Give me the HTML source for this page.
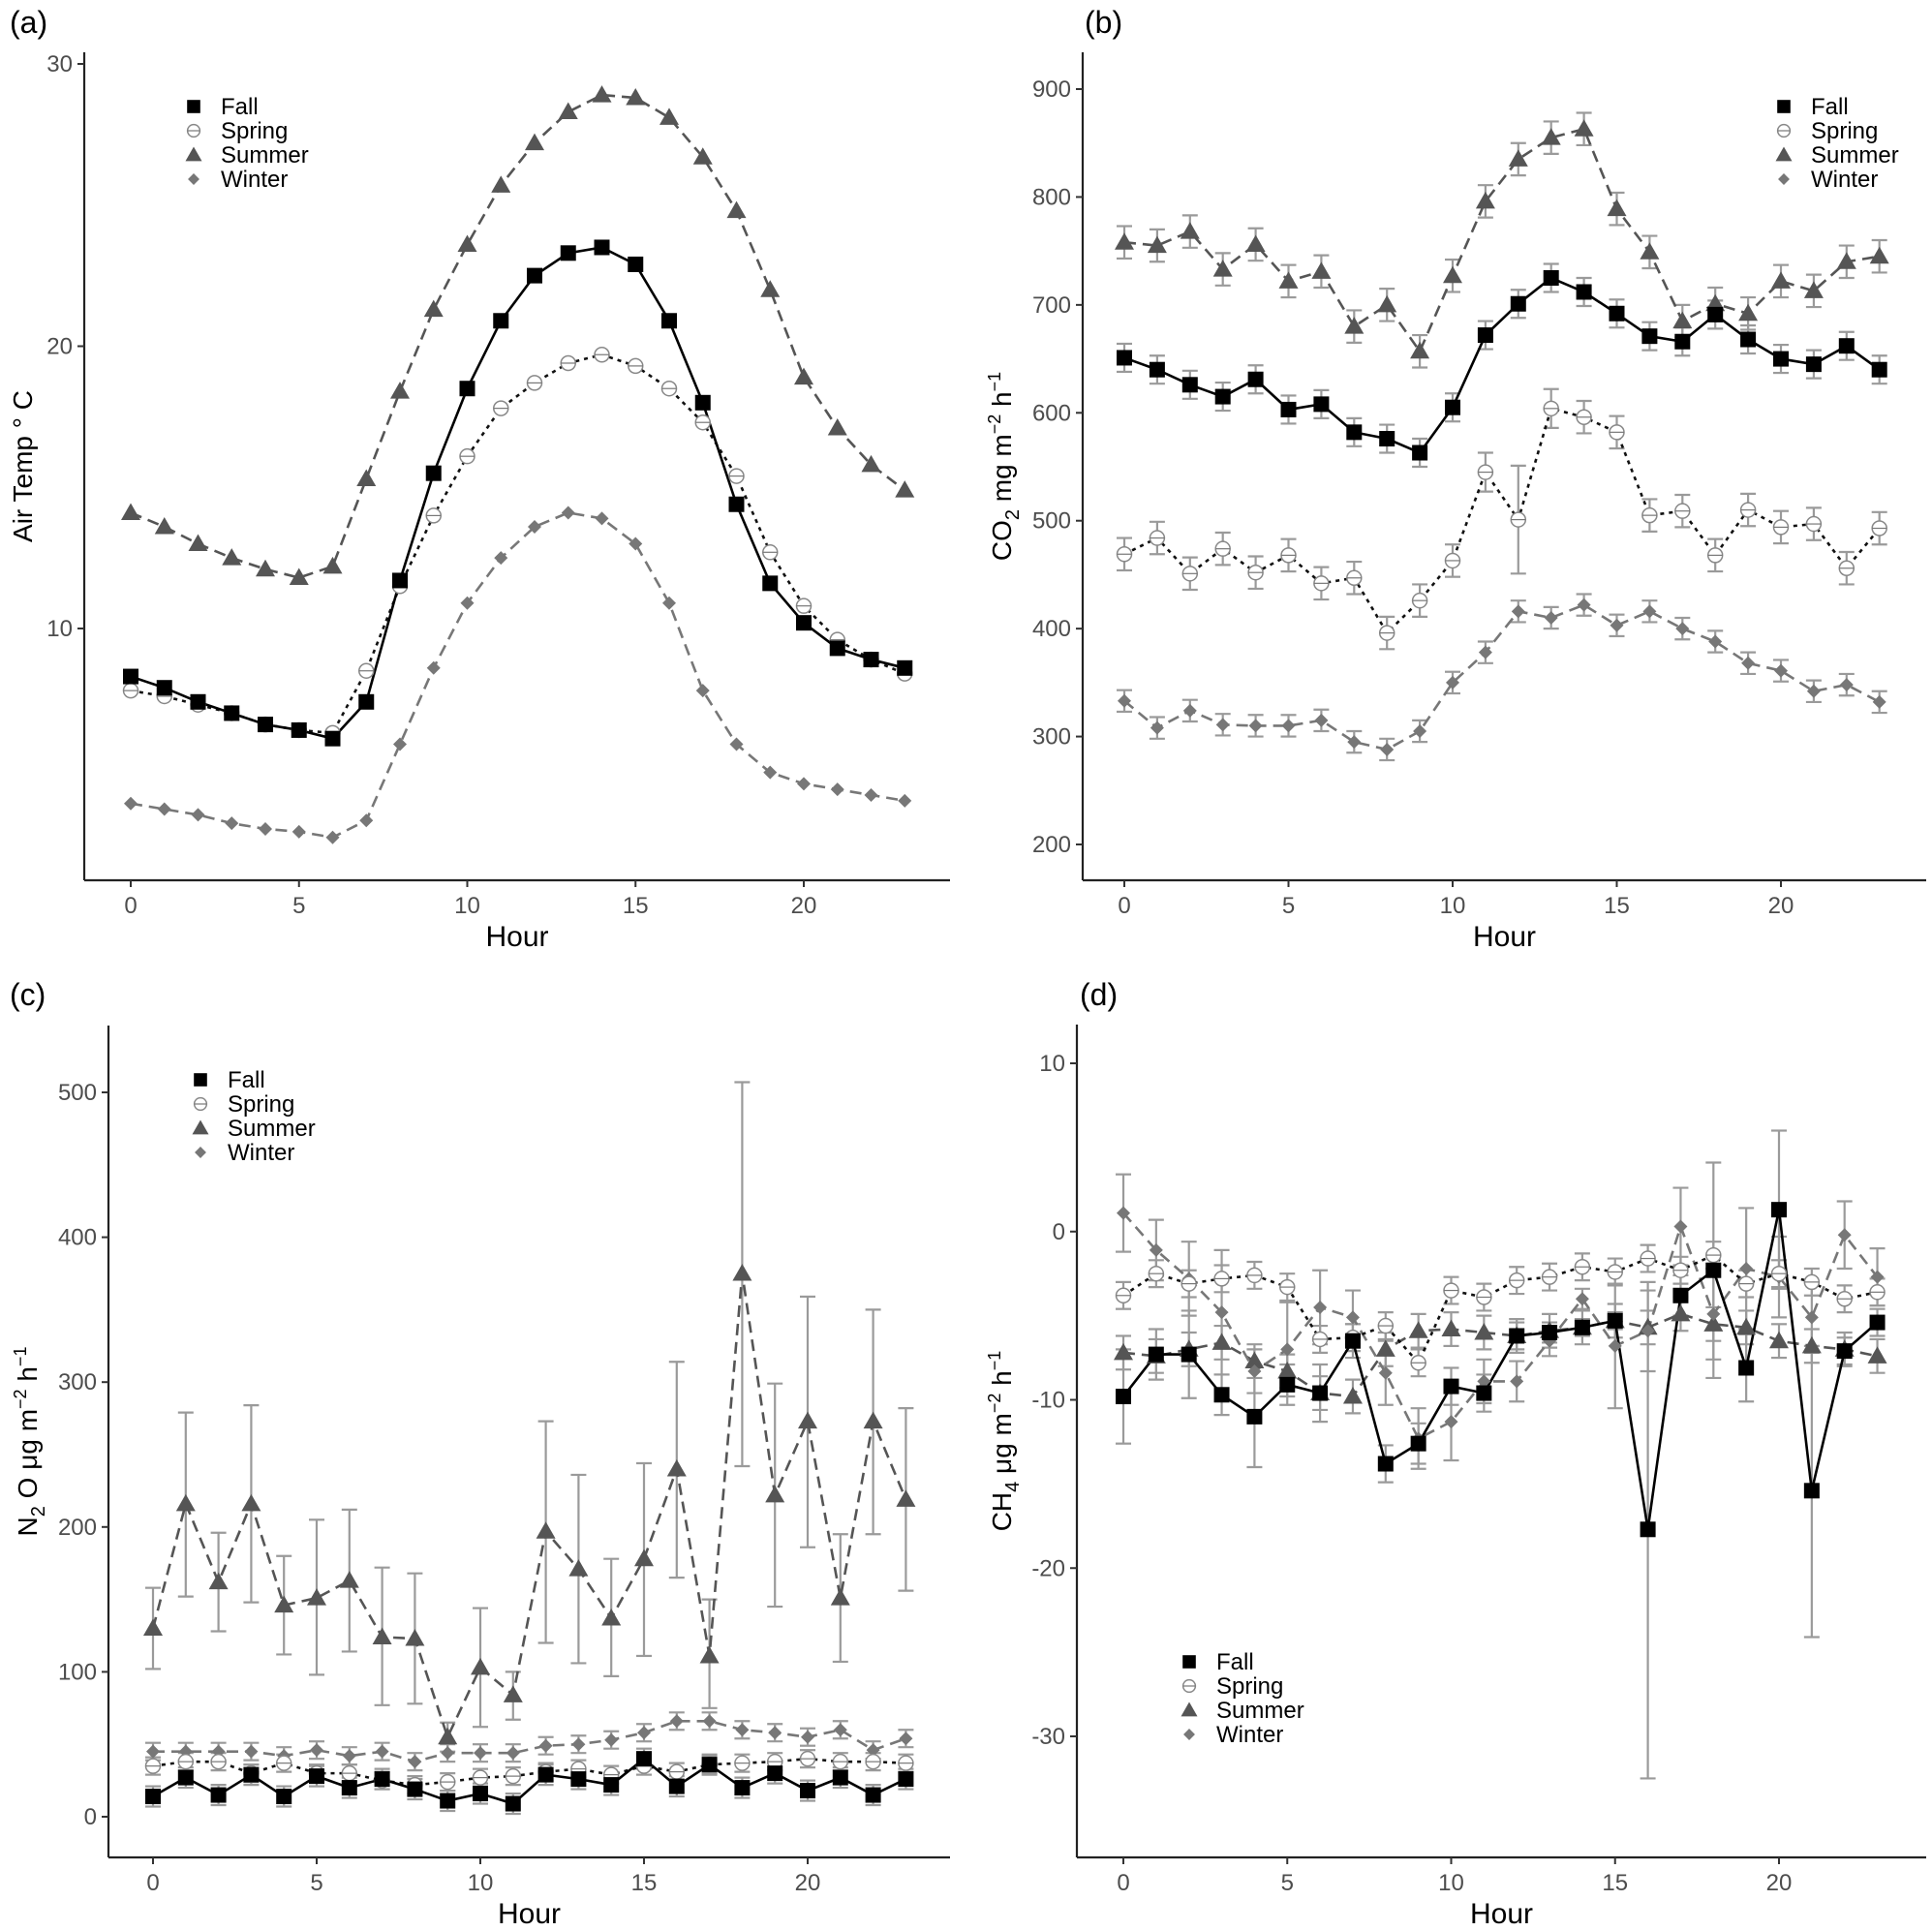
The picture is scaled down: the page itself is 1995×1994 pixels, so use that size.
<!DOCTYPE html>
<html><head><meta charset="utf-8"><style>
html,body{margin:0;padding:0;background:#fff}
svg{display:block;font-family:"Liberation Sans",sans-serif}
</style></head><body>
<svg id="s" width="1995" height="1994" xmlns="http://www.w3.org/2000/svg"></svg>
<script>
const S=document.getElementById('s');let h='';
function mk(p,series,legend){
 const X=t=>p.x0+t*p.hr, Y=v=>p.y1p+(v-p.y1)*(p.y2p-p.y1p)/(p.y2-p.y1);
 h+=`<line x1="${p.l}" y1="${p.t}" x2="${p.l}" y2="${p.b}" stroke="#222" stroke-width="2.2"/>`;
 h+=`<line x1="${p.l}" y1="${p.b}" x2="${p.r}" y2="${p.b}" stroke="#222" stroke-width="2.2"/>`;
 for(const v of p.yt){const y=Y(v);h+=`<line x1="${p.l-7}" y1="${y}" x2="${p.l}" y2="${y}" stroke="#333" stroke-width="2"/><text x="${p.l-12}" y="${y+8}" font-size="24" fill="#4d4d4d" text-anchor="end">${v}</text>`;}
 for(const t of [0,5,10,15,20]){const x=X(t);h+=`<line x1="${x}" y1="${p.b}" x2="${x}" y2="${p.b+7}" stroke="#333" stroke-width="2"/><text x="${x}" y="${p.b+34}" font-size="24" fill="#4d4d4d" text-anchor="middle">${t}</text>`;}
 h+=`<text x="${(p.l+p.r)/2}" y="${p.b+68}" font-size="30" fill="#000" text-anchor="middle">Hour</text>`;
 h+=`<text transform="translate(${p.yx},${(p.t+p.b)/2}) rotate(-90)" font-size="28" text-anchor="middle">${p.ytitle}</text>`;
 h+=`<text x="${p.lx}" y="${p.ly}" font-size="32">${p.lab}</text>`;
 for(const s of series){ if(!s.e)continue; s.v.forEach((v,i)=>{const e=s.e[i];if(e==null)return;let lo,hi;if(Array.isArray(e)){lo=e[0];hi=e[1]}else{lo=v-e;hi=v+e}
  const x=X(i);h+=`<g stroke="#9a9a9a" stroke-width="2.2"><line x1="${x}" y1="${Y(lo)}" x2="${x}" y2="${Y(hi)}"/><line x1="${x-8}" y1="${Y(lo)}" x2="${x+8}" y2="${Y(lo)}"/><line x1="${x-8}" y1="${Y(hi)}" x2="${x+8}" y2="${Y(hi)}"/></g>`;});}
 for(const s of series){const pts=s.v.map((v,i)=>X(i)+','+Y(v)).join(' ');
  h+=`<polyline points="${pts}" fill="none" stroke="${s.c}" stroke-width="2.6" ${s.d?`stroke-dasharray="${s.d}"`:''}/>`;}
 for(const s of series){s.v.forEach((v,i)=>{h+=marker(s.m,X(i),Y(v));});}
 legend.forEach((n,i)=>{const y=p.gy+i*25;h+=marker(['sq','ci','tr','di'][i],p.gx,y,0.85)+`<text x="${p.gx+28}" y="${y+8}" font-size="24">${n}</text>`;});
}
function marker(m,x,y,k=1){
 if(m=='sq'){const a=8*k;return `<rect x="${x-a}" y="${y-a}" width="${2*a}" height="${2*a}" fill="#000"/>`;}
 if(m=='ci'){const r=7.5*k;return `<circle cx="${x}" cy="${y}" r="${r}" fill="#fff" stroke="#888" stroke-width="1.5"/><line x1="${x-r}" y1="${y}" x2="${x+r}" y2="${y}" stroke="#777" stroke-width="1.2"/>`;}
 if(m=='tr'){const a=10*k;return `<polygon points="${x},${y-a} ${x+a},${y+a*0.75} ${x-a},${y+a*0.75}" fill="#555"/>`;}
 if(m=='di'){const a=7*k;return `<polygon points="${x},${y-a} ${x+a},${y} ${x},${y+a} ${x-a},${y}" fill="#777"/>`;}
}
const F={c:'#000',m:'sq'},SP={c:'#111',m:'ci',d:'4,5'},SU={c:'#555',m:'tr',d:'12,7'},W={c:'#777',m:'di',d:'12,7'};
const L=['Fall','Spring','Summer','Winter'];
mk({l:87,t:54,b:909,r:981,x0:135,hr:34.75,y1:30,y1p:66,y2:10,y2p:649,yt:[10,20,30],yx:33,ytitle:'Air Temp ° C',lab:'(a)',lx:10,ly:34,gx:200,gy:110},[
{...SU,v:[14.1,13.6,13.0,12.5,12.1,11.8,12.2,15.3,18.4,21.3,23.6,25.7,27.2,28.3,28.9,28.8,28.1,26.7,24.8,22.0,18.9,17.1,15.8,14.9]},
{...W,v:[3.8,3.6,3.4,3.1,2.9,2.8,2.6,3.2,5.9,8.6,10.9,12.5,13.6,14.1,13.9,13.0,10.9,7.8,5.9,4.9,4.5,4.3,4.1,3.9]},
{...SP,v:[7.8,7.6,7.3,7.0,6.6,6.4,6.3,8.5,11.5,14.0,16.1,17.8,18.7,19.4,19.7,19.3,18.5,17.3,15.4,12.7,10.8,9.6,8.9,8.4]},
{...F,v:[8.3,7.9,7.4,7.0,6.6,6.4,6.1,7.4,11.7,15.5,18.5,20.9,22.5,23.3,23.5,22.9,20.9,18.0,14.4,11.6,10.2,9.3,8.9,8.6]}],L);
const e15=Array(24).fill(15);const spE=e15.slice();spE[12]=50;spE[11]=18;spE[13]=18;
mk({l:1118,t:54,b:909,r:1989,x0:1161,hr:33.9,y1:900,y1p:92,y2:200,y2p:872,yt:[200,300,400,500,600,700,800,900],yx:1044,ytitle:'CO<tspan font-size="20" dy="8">2</tspan><tspan dy="-8"> mg m</tspan><tspan font-size="18" dy="-11">−2</tspan><tspan dy="11"> h</tspan><tspan font-size="18" dy="-11">−1</tspan>',lab:'(b)',lx:1120,ly:34,gx:1842,gy:110},[
{...SU,e:e15,v:[758,755,768,733,756,722,731,680,700,657,727,796,835,855,863,789,749,685,701,692,722,713,740,745]},
{...W,e:Array(24).fill(10),v:[333,308,324,311,310,310,315,295,288,305,350,378,416,410,422,403,416,400,388,368,361,342,348,332]},
{...SP,e:spE,v:[469,484,451,474,452,468,442,447,396,426,463,545,501,604,596,582,505,509,468,510,494,497,456,493]},
{...F,e:Array(24).fill(13),v:[651,640,626,615,631,603,608,582,576,563,605,672,701,725,712,692,671,666,691,668,650,645,662,640]}],L);
mk({l:112,t:1059,b:1918,r:981,x0:158,hr:33.8,y1:500,y1p:1128,y2:0,y2p:1876,yt:[0,100,200,300,400,500],yx:38,ytitle:'N<tspan font-size="20" dy="8">2</tspan><tspan dy="-8"> O μg m</tspan><tspan font-size="18" dy="-11">−2</tspan><tspan dy="11"> h</tspan><tspan font-size="18" dy="-11">−1</tspan>',lab:'(c)',lx:10,ly:1038,gx:207,gy:1115},[
{...SU,e:[[102,158],[152,279],[128,196],[148,284],[112,180],[98,205],[114,212],[77,172],[78,168],[45,65],[62,144],[67,100],[120,273],[106,236],[97,178],[111,244],[165,314],[75,150],[242,507],[145,299],[186,359],[107,195],[195,350],[156,282]],v:[130,216,162,216,146,151,163,124,123,55,103,84,197,171,137,178,240,111,375,222,273,151,273,219]},
{...W,e:Array(24).fill(6),v:[45,45,45,45,42,46,42,45,38,44,44,44,49,50,53,58,66,66,60,58,55,60,46,54]},
{...SP,e:Array(24).fill(6),v:[35,38,38,30,37,30,30,25,22,24,27,28,31,33,29,35,31,36,37,38,40,38,38,37]},
{...F,e:Array(24).fill(7),v:[14,27,15,29,14,28,20,26,19,11,16,9,29,26,22,40,21,36,20,30,18,27,15,26]}],L);
mk({l:1112,t:1058,b:1918,r:1989,x0:1160,hr:33.85,y1:10,y1p:1098,y2:-30,y2p:1793,yt:[-30,-20,-10,0,10],yx:1044,ytitle:'CH<tspan font-size="20" dy="8">4</tspan><tspan dy="-8"> μg m</tspan><tspan font-size="18" dy="-11">−2</tspan><tspan dy="11"> h</tspan><tspan font-size="18" dy="-11">−1</tspan>',lab:'(d)',lx:1115,ly:1038,gx:1228,gy:1716},[
{...SU,e:Array(24).fill(1),v:[-7.2,-7.4,-7.0,-6.6,-7.7,-8.3,-9.6,-9.8,-7.0,-5.9,-5.8,-6.0,-6.2,-5.9,-5.7,-5.3,-5.7,-4.9,-5.5,-5.7,-6.5,-6.8,-7.0,-7.4]},
{...W,e:[2.3,1.8,2.2,3.7,1.3,2.8,2.2,1.6,1.9,1.8,2.3,1.3,1.2,0.9,0.6,3.7,2.4,2.3,2.7,3.6,2.4,2.1,2.0,1.7],v:[1.1,-1.1,-2.8,-4.8,-8.3,-7.0,-4.5,-5.1,-8.4,-12.3,-11.3,-8.9,-8.9,-6.5,-4.0,-6.8,-5.9,0.3,-4.9,-2.2,-2.7,-5.1,-0.2,-2.7]},
{...SP,e:Array(24).fill(0.8),v:[-3.8,-2.5,-3.1,-2.8,-2.6,-3.3,-6.4,-6.3,-5.6,-7.8,-3.5,-3.9,-2.9,-2.7,-2.1,-2.4,-1.6,-2.3,-1.4,-3.1,-2.5,-3.0,-4.0,-3.6]},
{...F,e:[2.8,1.5,2.6,1.2,3,1.2,1.7,1,1.1,1.2,1.1,1.1,0.8,0.6,0.5,0.5,[-32.5,-3],1.2,[-8.7,4.1],2,[-3.4,6],[-24.1,-6.8],0.8,0.8],v:[-9.8,-7.3,-7.3,-9.7,-11.0,-9.1,-9.6,-6.5,-13.8,-12.6,-9.2,-9.6,-6.2,-6.0,-5.7,-5.3,-17.7,-3.8,-2.3,-8.1,1.3,-15.4,-7.1,-5.4]}],L);
S.innerHTML=h;
</script>
</body></html>
